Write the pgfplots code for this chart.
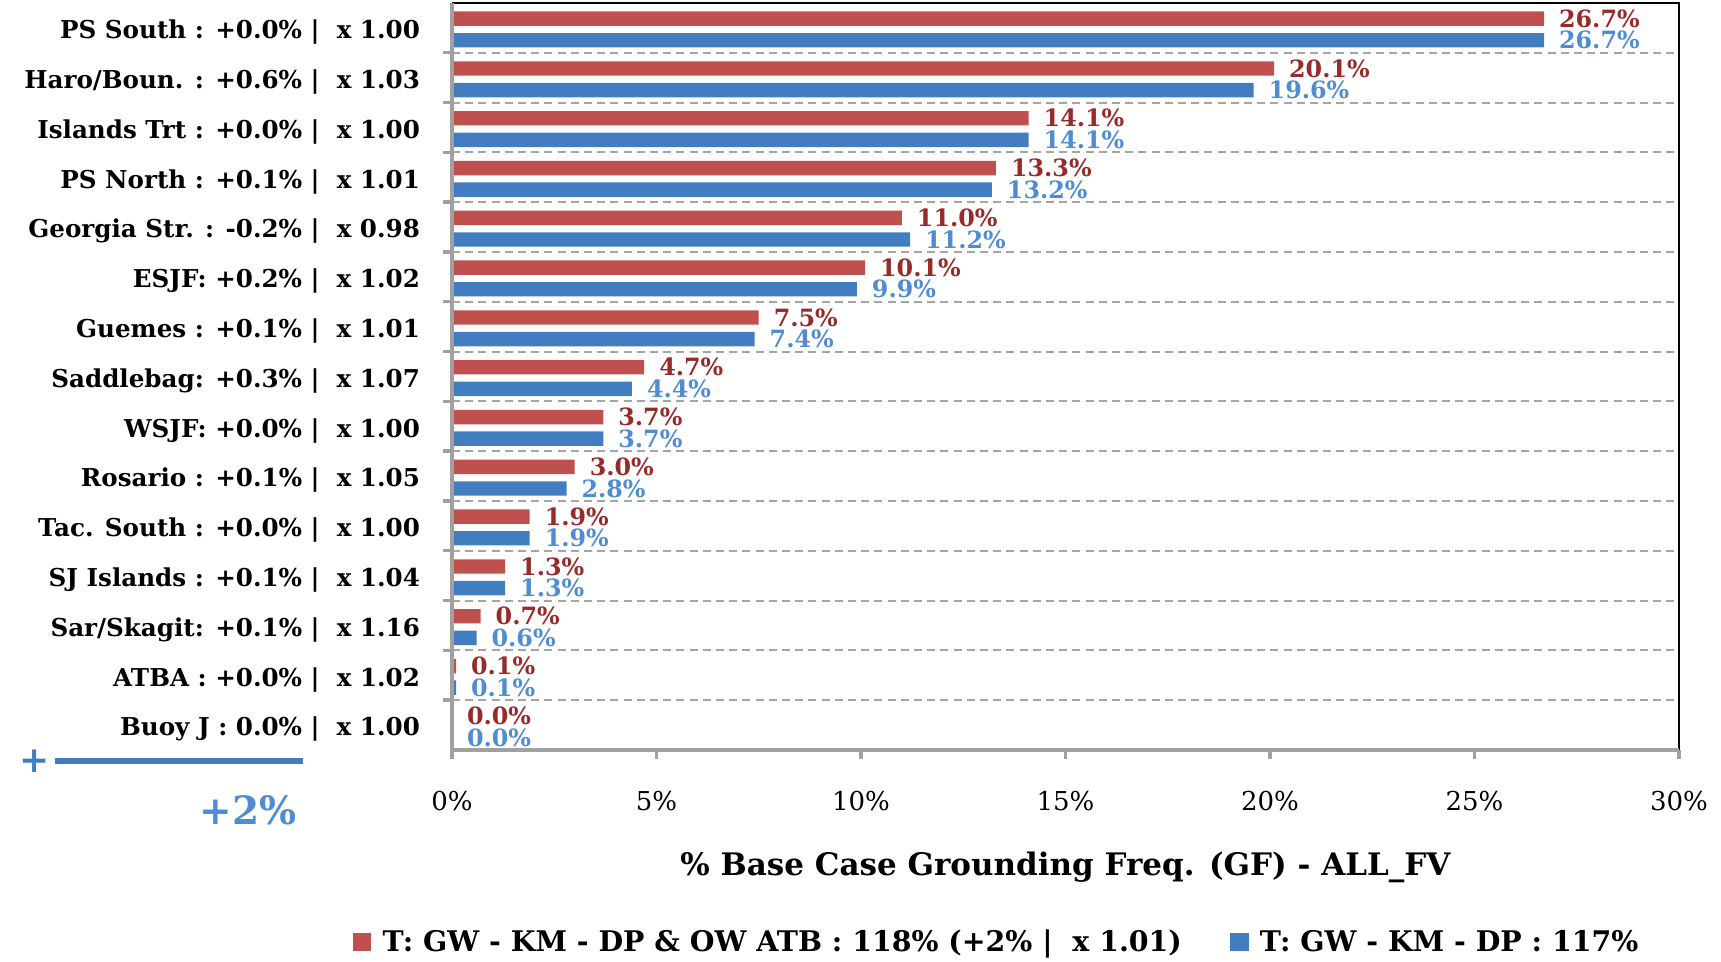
\documentclass[border=0pt]{standalone}
\usepackage{fontspec}
\setmainfont{DejaVu Serif}
\usepackage{pgfplots}
\pgfplotsset{compat=1.18}

\definecolor{barRed}{RGB}{192,80,77}
\definecolor{barBlue}{RGB}{66,125,191}
\definecolor{labRed}{RGB}{152,42,42}
\definecolor{labBlue}{RGB}{80,140,210}
\definecolor{axGray}{RGB}{160,160,160}
\definecolor{gridGray}{RGB}{165,165,165}

\begin{document}
\begin{tikzpicture}
\useasboundingbox (-226pt,-106pt) rectangle (634.5pt,375pt);
\begin{axis}[
    xbar,
    scale only axis,
    width=613.5pt, height=373.5pt,
    xmin=0, xmax=30, ymin=-0.5, ymax=14.5,
    bar width=7.2pt,
    clip=false,
    axis line style={draw=none},
    /pgf/number format/assume math mode=true,
    tick pos=left,
    tick align=outside,
    major tick length=4.5pt,
    xtick={0,5,...,30},
    xticklabel={\pgfmathprintnumber{\tick}\%},
    xticklabel style={font=\fontsize{13}{14}\selectfont, yshift=-12.8pt},
    xtick style={draw=axGray, line width=1.7pt},
    ytick={0,...,14},
    yticklabels={
        Buoy J : 0.0\% | ~x 1.00,
        ATBA : +0.0\% | ~x 1.02,
        Sar/Skagit: +0.1\% | ~x 1.16,
        SJ Islands : +0.1\% | ~x 1.04,
        Tac. South : +0.0\% | ~x 1.00,
        Rosario : +0.1\% | ~x 1.05,
        WSJF: +0.0\% | ~x 1.00,
        Saddlebag: +0.3\% | ~x 1.07,
        Guemes : +0.1\% | ~x 1.01,
        ESJF: +0.2\% | ~x 1.02,
        Georgia Str. : -0.2\% | ~x 0.98,
        PS North : +0.1\% | ~x 1.01,
        Islands Trt : +0.0\% | ~x 1.00,
        Haro/Boun. : +0.6\% | ~x 1.03,
        PS South : +0.0\% | ~x 1.00},
    yticklabel style={font=\bfseries\fontsize{12.3}{13}\selectfont, xshift=-8pt, yshift=-2.2pt},
    ytick style={draw=none},
    extra y ticks={0.5,1.5,...,13.5},
    extra y tick labels={},
    extra y tick style={grid=major, ytick style={draw=axGray, line width=1.7pt}},
    major grid style={draw=gridGray, line width=1pt, dash pattern=on 4pt off 2.6pt},
    point meta=x,
    nodes near coords={\pgfmathprintnumber[fixed,fixed zerofill,precision=1]{\pgfplotspointmeta}\%},
    every node near coord/.append style={font=\bfseries\fontsize{11.9}{12}\selectfont, xshift=4pt},
    xlabel={\% Base Case Grounding Freq. (GF) - ALL\_FV},
    xlabel style={font=\bfseries\fontsize{15.5}{16}\selectfont, at={(axis description cs:0.5,-0.157)}, anchor=center},
    legend image code/.code={\fill[#1,draw=none] (0pt,-4.7pt) rectangle (9.4pt,4.7pt); \path (13pt,0pt);},
    legend style={draw=none, fill=none, at={(0.4446,-0.257)}, anchor=center,
        legend columns=2, font=\bfseries\fontsize{14.2}{16}\selectfont,
        /tikz/every even column/.append style={column sep=22pt}},
]
\addplot[fill=barRed, draw=none, bar shift=4.6pt,
    every node near coord/.append style={text=labRed}]
    coordinates {(26.7,14) (20.1,13) (14.1,12) (13.3,11) (11.0,10) (10.1,9) (7.5,8)
                 (4.7,7) (3.7,6) (3.0,5) (1.9,4) (1.3,3) (0.7,2) (0.1,1) (0.0,0)};
\addlegendentry{T: GW - KM - DP \& OW ATB : 118\% (+2\% | ~x 1.01)}
\addplot[fill=barBlue, draw=none, bar shift=-6.2pt,
    every node near coord/.append style={text=labBlue}]
    coordinates {(26.7,14) (19.6,13) (14.1,12) (13.2,11) (11.2,10) (9.9,9) (7.4,8)
                 (4.4,7) (3.7,6) (2.8,5) (1.9,4) (1.3,3) (0.6,2) (0.1,1) (0.0,0)};
\addlegendentry{T: GW - KM - DP : 117\%}
% frame: thin black top/right, thick grey left/bottom
\draw[black, line width=0.8pt] (rel axis cs:0,1) -- (rel axis cs:1,1) -- (rel axis cs:1,0);
\draw[axGray, line width=1.7pt] (rel axis cs:0,1) -- (rel axis cs:0,0) -- (rel axis cs:1,0);
\end{axis}
% +2% marker below the category labels
\node[text=barBlue, font=\bfseries\fontsize{18}{18}\selectfont] at (-208.5pt,-5.5pt) {+};
\draw[barBlue, line width=3pt] (-198.5pt,-5.5pt) -- (-74.5pt,-5.5pt);
\node[text=labBlue, font=\bfseries\fontsize{19.5}{20}\selectfont] at (-102pt,-30pt) {+2\%};
\end{tikzpicture}
\end{document}
